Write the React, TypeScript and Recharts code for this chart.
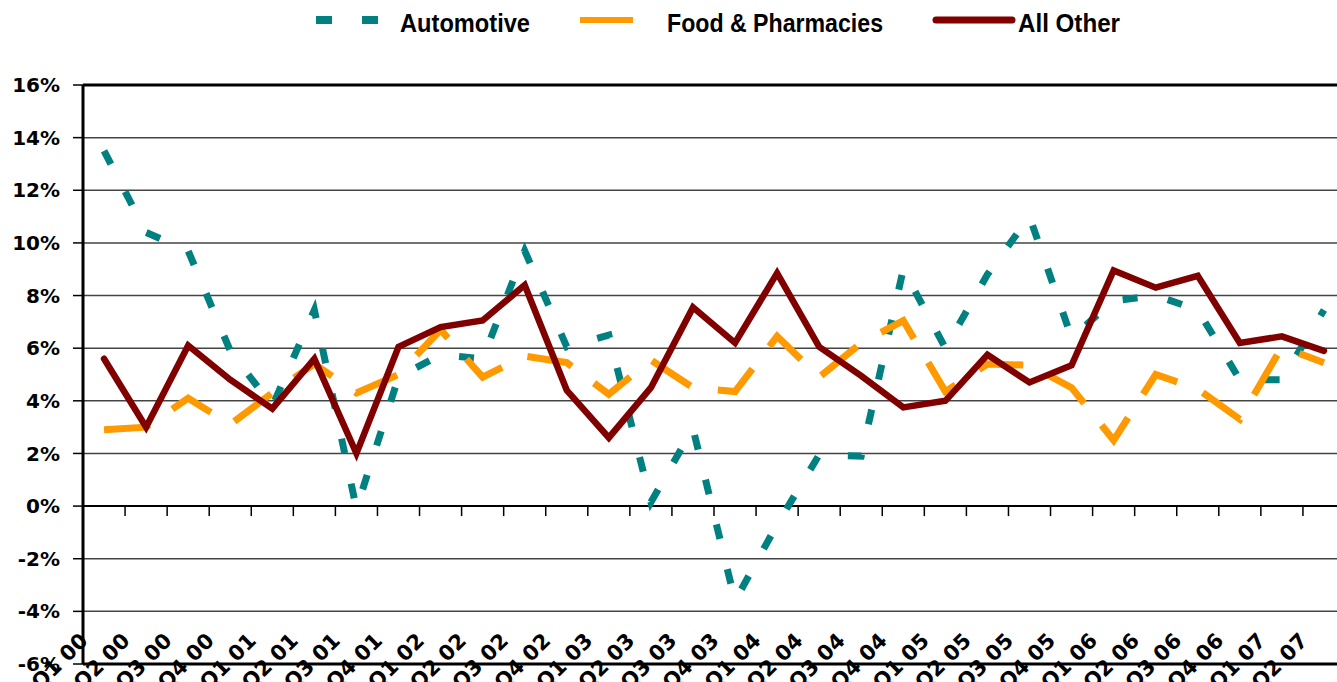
import React from 'react';
import {
  CartesianGrid,
  Legend,
  Line,
  LineChart,
  ReferenceLine,
  XAxis,
  YAxis,
} from 'recharts';

const quarters = [
  'Q1 00', 'Q2 00', 'Q3 00', 'Q4 00',
  'Q1 01', 'Q2 01', 'Q3 01', 'Q4 01',
  'Q1 02', 'Q2 02', 'Q3 02', 'Q4 02',
  'Q1 03', 'Q2 03', 'Q3 03', 'Q4 03',
  'Q1 04', 'Q2 04', 'Q3 04', 'Q4 04',
  'Q1 05', 'Q2 05', 'Q3 05', 'Q4 05',
  'Q1 06', 'Q2 06', 'Q3 06', 'Q4 06',
  'Q1 07', 'Q2 07',
];

const automotive = [
  13.5, 10.4, 9.7, 5.9, 3.8, 7.45, -0.1, 4.9, 5.75, 5.6,
  9.7, 6.05, 6.5, 0.15, 2.95, -3.6, -0.7, 1.95, 1.9, 9.0,
  6.0, 8.8, 11.0, 6.4, 7.8, 8.0, 7.45, 4.8, 4.8, 7.45,
];

const foodPharmacies = [
  2.9, 3.0, 4.1, 3.1, 4.3, 5.4, 4.3, 5.0, 6.7, 4.9,
  5.7, 5.45, 4.25, 5.55, 4.5, 4.35, 6.45, 4.9, 6.2, 7.05,
  4.35, 5.4, 5.35, 4.5, 2.5, 5.0, 4.45, 3.3, 6.05, 5.45,
];

const allOther = [
  5.6, 3.0, 6.1, 4.8, 3.7, 5.6, 2.0, 6.05, 6.8, 7.05,
  8.4, 4.4, 2.6, 4.5, 7.55, 6.2, 8.85, 6.05, 4.95, 3.75,
  4.0, 5.75, 4.7, 5.35, 8.95, 8.3, 8.75, 6.2, 6.45, 5.9,
];

const yTicks = [-6, -4, -2, 0, 2, 4, 6, 8, 10, 12, 14, 16];

const chartData = quarters.map((quarter, i) => ({
  quarter,
  automotive: automotive[i],
  food: foodPharmacies[i],
  other: allOther[i],
}));

const SERIES = [
  { key: 'automotive', name: 'Automotive', color: '#008080', width: 7, dash: '15 31', cap: 'butt' },
  { key: 'food', name: 'Food & Pharmacies', color: '#FF9900', width: 7, dash: '46 28', cap: 'butt' },
  { key: 'other', name: 'All Other', color: '#800000', width: 6.5, dash: undefined, cap: 'round' },
] as const;

// legend sample / label placement (pixels)
const LEGEND_LAYOUT: Record<string, { x1: number; x2: number; lw: number; dash?: string; tx: number; tw: number }> = {
  automotive: { x1: 316, x2: 378, lw: 8, dash: '16 30', tx: 400, tw: 130 },
  food: { x1: 580, x2: 633, lw: 6, tx: 667, tw: 216 },
  other: { x1: 936, x2: 1012, lw: 7, tx: 1018, tw: 102 },
};

const BOLD = { fontFamily: 'DejaVu Sans', fontWeight: 'bold' as const };

function renderLegend(props: any) {
  const payload = props.payload ?? [];
  return (
    <svg width={1337} height={45} style={{ display: 'block' }}>
      {payload.map((entry: any) => {
        const key = String(entry.dataKey);
        const pos = LEGEND_LAYOUT[key];
        const spec = SERIES.find((s) => s.key === key);
        if (!pos || !spec) return null;
        return (
          <g key={key}>
            <line
              x1={pos.x1}
              x2={pos.x2}
              y1={20}
              y2={20}
              stroke={spec.color}
              strokeWidth={pos.lw}
              strokeDasharray={pos.dash}
              strokeLinecap={spec.cap}
            />
            <text
              x={pos.tx}
              y={32}
              textLength={pos.tw}
              lengthAdjust="spacingAndGlyphs"
              fontFamily="'Liberation Sans Narrow', 'Liberation Sans', sans-serif"
              fontWeight="bold"
              fontSize={25}
              fill="#000"
            >
              {entry.value}
            </text>
          </g>
        );
      })}
    </svg>
  );
}

function QuarterTick(props: any) {
  const { x, y, payload } = props;
  const ax = x - 15;
  const ay = y - 22;
  return (
    <text
      x={ax}
      y={ay}
      transform={`rotate(-45, ${ax}, ${ay})`}
      textAnchor="end"
      fontSize={21}
      fill="#000"
      {...BOLD}
    >
      {payload.value}
    </text>
  );
}

// zero line with the category boundary ticks hanging below it
function ZeroAxis(props: any) {
  const { x1, x2, y1 } = props;
  const step = (x2 - x1) / quarters.length;
  const marks = quarters.slice(1).map((_, i) => x1 + step * (i + 1));
  return (
    <g>
      <line x1={x1} x2={x2} y1={y1} y2={y1} stroke="#000" strokeWidth={2} />
      {marks.map((mx) => (
        <line key={mx} x1={mx} x2={mx} y1={y1} y2={y1 + 10} stroke="#000" strokeWidth={1.5} />
      ))}
    </g>
  );
}

export default function App() {
  return (
    <div
      style={{
        position: 'absolute',
        left: 0,
        top: 0,
        width: 1337,
        height: 682,
        overflow: 'hidden',
        background: '#fff',
      }}
    >
      <LineChart
        width={1345}
        height={682}
        data={chartData}
        margin={{ top: 85, right: 0, bottom: 0, left: 0 }}
      >
        <CartesianGrid vertical={false} stroke="#444" strokeWidth={1.5} />
        <XAxis
          dataKey="quarter"
          scale="band"
          interval={0}
          height={18}
          tickLine={false}
          tickSize={0}
          tickMargin={0}
          axisLine={{ stroke: '#000', strokeWidth: 3 }}
          tick={(p: any) => <QuarterTick {...p} />}
        />
        <YAxis
          domain={[-6, 16]}
          ticks={yTicks}
          interval={0}
          width={83}
          tickSize={10}
          tickMargin={13}
          axisLine={{ stroke: '#000', strokeWidth: 3 }}
          tickLine={{ stroke: '#000', strokeWidth: 1.5 }}
          tick={{ fill: '#000', fontSize: 20, ...BOLD }}
          tickFormatter={(v: number) => `${v}%`}
        />
        <ReferenceLine y={16} stroke="#000" strokeWidth={3} />
        <ReferenceLine y={0} shape={(p: any) => <ZeroAxis {...p} />} />
        <Legend
          verticalAlign="top"
          content={renderLegend}
          wrapperStyle={{ top: 0, left: 0, width: 1337, height: 0, margin: 0 }}
        />
        {SERIES.map((s) => (
          <Line
            key={s.key}
            type="linear"
            dataKey={s.key}
            name={s.name}
            stroke={s.color}
            strokeWidth={s.width}
            strokeDasharray={s.dash}
            strokeLinecap={s.cap}
            dot={false}
            activeDot={false}
            isAnimationActive={false}
          />
        ))}
      </LineChart>
    </div>
  );
}
